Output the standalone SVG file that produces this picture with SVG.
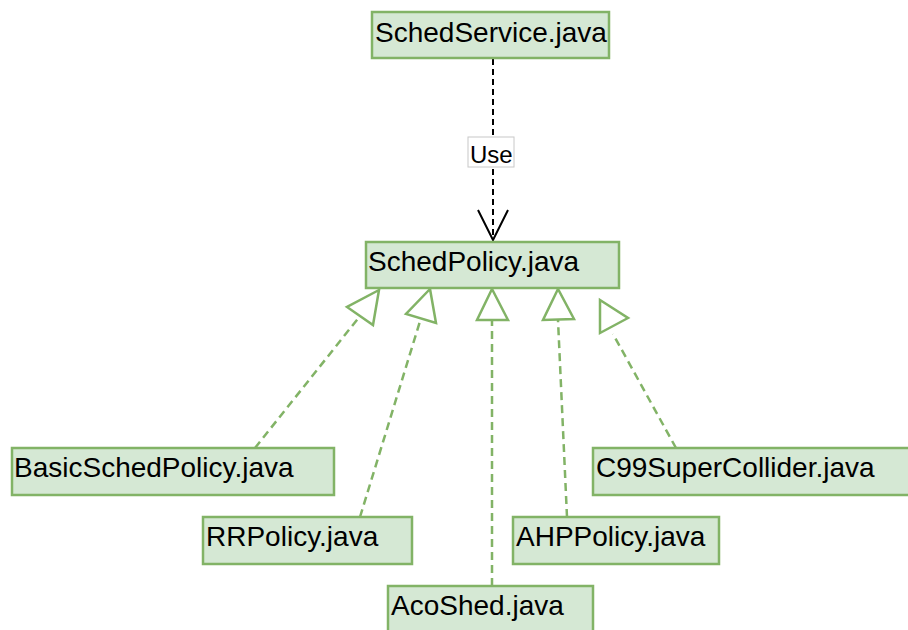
<svg xmlns="http://www.w3.org/2000/svg" width="908" height="630" viewBox="0 0 908 630">
  <style>
    .box { fill: #d5e8d4; stroke: #82b366; stroke-width: 2.5; }
    .lbl { font-family: "Liberation Sans", Arial, sans-serif; font-size: 28px; fill: #000; }
    .real { fill: none; stroke: #82b366; stroke-width: 2.5; stroke-dasharray: 8 5; }
    .tri { fill: #ffffff; fill-opacity: 0; stroke: #82b366; stroke-width: 2.5; stroke-linejoin: miter; }
    .use { fill: none; stroke: #000; stroke-width: 2; stroke-dasharray: 6 4; }
    .usehead { fill: none; stroke: #000; stroke-width: 2; }
    .tag { fill: #fff; stroke: #c8c8c8; stroke-width: 1; }
    .tagtxt { font-family: "Liberation Sans", Arial, sans-serif; font-size: 24px; fill: #000; }
  </style>

  <!-- connectors -->
  <g id="connectors">
    <!-- dependency: SchedService uses SchedPolicy -->
    <line class="use" x1="493" y1="59" x2="493" y2="240"/>
    <polyline class="usehead" points="478,210 493,240 508,210"/>
    <rect class="tag" x="468" y="137" width="46" height="30"/>
    <text class="tagtxt" x="470" y="163">Use</text>

    <!-- realizations of SchedPolicy -->
    <line class="real" x1="255" y1="448" x2="360" y2="316"/>
    <polygon class="tri" points="379,290 347,307 373,325"/>

    <line class="real" x1="360" y1="517" x2="421" y2="318"/>
    <polygon class="tri" points="430,289 406,314 436,323"/>

    <line class="real" x1="492" y1="586" x2="492" y2="320"/>
    <polygon class="tri" points="492,289 477,320 508,320"/>

    <line class="real" x1="567" y1="517" x2="558" y2="320"/>
    <polygon class="tri" points="558,289 543,320 574,319"/>

    <line class="real" x1="676" y1="448" x2="613" y2="334"/>
    <polygon class="tri" points="600,300 628,318 600,333"/>
  </g>

  <g id="schedservice">
    <rect class="box" x="372" y="12" width="237" height="46"/>
    <text class="lbl" x="375" y="42">SchedService.java</text>
  </g>

  <g id="schedpolicy">
    <rect class="box" x="366" y="242" width="253" height="46"/>
    <text class="lbl" x="368" y="271">SchedPolicy.java</text>
  </g>

  <g id="basicschedpolicy">
    <rect class="box" x="12" y="448" width="322" height="47"/>
    <text class="lbl" x="14" y="477">BasicSchedPolicy.java</text>
  </g>

  <g id="rrpolicy">
    <rect class="box" x="203" y="517" width="209" height="47"/>
    <text class="lbl" x="206" y="546">RRPolicy.java</text>
  </g>

  <g id="acoshed">
    <rect class="box" x="388" y="586" width="205" height="47"/>
    <text class="lbl" x="391" y="615">AcoShed.java</text>
  </g>

  <g id="ahppolicy">
    <rect class="box" x="513" y="517" width="206" height="47"/>
    <text class="lbl" x="516" y="546">AHPPolicy.java</text>
  </g>

  <g id="c99supercollider">
    <rect class="box" x="593" y="448" width="320" height="47"/>
    <text class="lbl" x="596" y="477">C99SuperCollider.java</text>
  </g>
</svg>
